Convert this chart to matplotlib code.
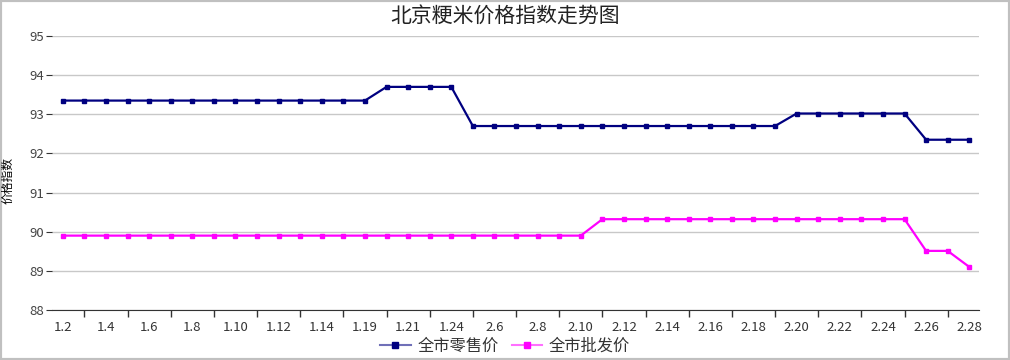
import matplotlib
matplotlib.use('Agg')
import matplotlib.pyplot as plt
from matplotlib.lines import Line2D
from matplotlib.patches import Rectangle

plt.rcParams['font.family'] = ['Noto Sans CJK SC', 'DejaVu Sans']

# 日期（全部类目，偶数位置显示标签）
dates = ['1.2', '1.3', '1.4', '1.5', '1.6', '1.7', '1.8', '1.9', '1.10', '1.11',
         '1.12', '1.13', '1.14', '1.15', '1.19', '1.20', '1.21', '1.22', '1.24', '1.25',
         '2.6', '2.7', '2.8', '2.9', '2.10', '2.11', '2.12', '2.13', '2.14', '2.15',
         '2.16', '2.17', '2.18', '2.19', '2.20', '2.21', '2.22', '2.23', '2.24', '2.25',
         '2.26', '2.27', '2.28']

retail = [93.35] * 15 + [93.70] * 4 + [92.70] * 15 + [93.02] * 6 + [92.35] * 3
wholesale = [89.90] * 25 + [90.32] * 15 + [89.51, 89.51, 89.10]

yticks = [88, 89, 90, 91, 92, 93, 94, 95]

retail_color = '#000080'
wholesale_color = '#ff00ff'

fig = plt.figure(figsize=(10.1, 3.6), dpi=100)
ax = fig.add_axes([52 / 1010, 1 - 310 / 360, (979 - 52) / 1010, (310 - 36) / 360])

x = list(range(len(dates)))
ax.plot(x, retail, color=retail_color, lw=1.6, marker='s', ms=3, zorder=3)
ax.plot(x, wholesale, color=wholesale_color, lw=1.6, marker='s', ms=3, zorder=3)

ax.set_xlim(-0.5, len(dates) - 0.55)
ax.set_ylim(88, 95)
ax.set_yticks(yticks)
ax.yaxis.grid(True, color='#c8c8c8', lw=1)
ax.set_axisbelow(True)

ax.set_xticks(x[::2])
ax.set_xticklabels(dates[::2])
ax.set_xticks(x[1::2], minor=True)
ax.tick_params(axis='x', which='major', length=0, pad=8, labelsize=9.5, labelcolor='#333333')
ax.tick_params(axis='x', which='minor', length=5, color='#333333', width=1)
ax.tick_params(axis='y', length=4, color='#333333', labelsize=9.5, labelcolor='#444444', pad=2)

for side in ['left', 'right', 'top']:
    ax.spines[side].set_visible(False)
ax.spines['bottom'].set_color('#333333')

fig.text(8 / 1010, 0.5, '价格指数', rotation=90, fontsize=8.5, ha='center', va='center')
fig.text(0.5, 1 - 17 / 360, '北京粳米价格指数走势图', fontsize=15, color='#222222',
         ha='center', va='center')

handles = [
    Line2D([], [], color='#7070b8', lw=1.5, marker='s', ms=4,
           markerfacecolor=retail_color, markeredgecolor=retail_color),
    Line2D([], [], color='#ff70ff', lw=1.5, marker='s', ms=4,
           markerfacecolor=wholesale_color, markeredgecolor=wholesale_color),
]
fig.legend(handles, ['全市零售价', '全市批发价'], loc='center', bbox_to_anchor=(0.5, 1 - 346 / 360),
           ncol=2, frameon=False, fontsize=11.7, handlelength=1.9, columnspacing=0.8,
           handletextpad=0.4, labelcolor='#333333')

fig.patches.append(Rectangle((0, 0), 1, 1, transform=fig.transFigure, fill=False,
                             edgecolor='#c0c0c0', lw=3))

fig.savefig('out.png', dpi=100)
